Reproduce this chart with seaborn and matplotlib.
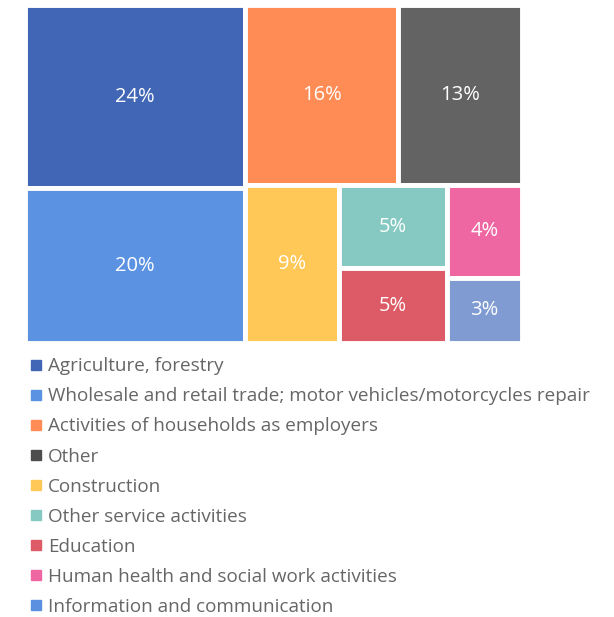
import matplotlib
matplotlib.use("Agg")
import matplotlib.pyplot as plt
from matplotlib.patches import Rectangle
from matplotlib.lines import Line2D
import seaborn as sns

# data (share of workers, %)
sectors = [
    "Agriculture, forestry",
    "Wholesale and retail trade; motor vehicles/motorcycles repair",
    "Activities of households as employers",
    "Other",
    "Construction",
    "Other service activities",
    "Education",
    "Human health and social work activities",
    "Information and communication",
]
shares = [23.9, 20.2, 16.4, 13.2, 8.8, 5.3, 4.8, 4.1, 2.9]
labels = ["24%", "20%", "16%", "13%", "9%", "5%", "5%", "4%", "3%"]

tile_colors = ["#4066b5", "#5b93e2", "#ff8b55", "#636363", "#ffc857",
               "#86c9c2", "#dd5b66", "#ee66a2", "#7f9bd2"]
legend_colors = ["#4066b5", "#5b93e2", "#ff8b55", "#4d4d4d", "#ffc857",
                 "#86c9c2", "#dd5b66", "#ee66a2", "#5b8fe0"]


def worst(row, side):
    s = sum(row)
    return max(max(side * side * r / (s * s), s * s / (side * side * r)) for r in row)


def squarify(vals, x, y, w, h):
    # classic squarified treemap, vals are areas summing to w*h
    rects = []
    vals = list(vals)
    while vals:
        side = min(w, h)
        row = [vals.pop(0)]
        while vals and worst(row + [vals[0]], side) <= worst(row, side):
            row.append(vals.pop(0))
        s = sum(row)
        if w >= h:
            cw = s / h
            cy = y
            for r in row:
                rects.append((x, cy, cw, r / cw))
                cy += r / cw
            x += cw
            w -= cw
        else:
            rh = s / w
            cx = x
            for r in row:
                rects.append((cx, y, r / rh, rh))
                cx += r / rh
            y += rh
            h -= rh
    return rects


sns.set_style("white")
plt.rcParams["font.family"] = ["Open Sans", "DejaVu Sans"]

fig = plt.figure(figsize=(6.14, 6.17), dpi=100)
ax = fig.add_axes([25 / 614, 1 - 343 / 617, 497 / 614, 338 / 617])

W, H = 497.0, 338.0
total = sum(shares)
areas = [v / total * W * H for v in shares]
rects = squarify(areas, 0, 0, W, H)

for (rx, ry, rw, rh), c, lab in zip(rects, tile_colors, labels):
    ax.add_patch(Rectangle((rx, ry), rw, rh, facecolor=c,
                           edgecolor="white", linewidth=3.5))
    ax.text(rx + rw / 2, ry + rh / 2, lab, color="white", fontsize=14.5,
            ha="center", va="center")

ax.set_xlim(0, W)
ax.set_ylim(H, 0)
ax.axis("off")

handles = [Line2D([], [], marker="s", linestyle="", markersize=7.2,
                  markerfacecolor=c, markeredgecolor=c) for c in legend_colors]
fig.legend(handles, sectors, loc="upper left", bbox_to_anchor=(0.05, 0.421),
           frameon=False, fontsize=13.6, labelcolor="#666666",
           handlelength=0.53, handletextpad=0.37, labelspacing=0.64,
           borderaxespad=0, borderpad=0)

plt.savefig("out.png", dpi=100)
